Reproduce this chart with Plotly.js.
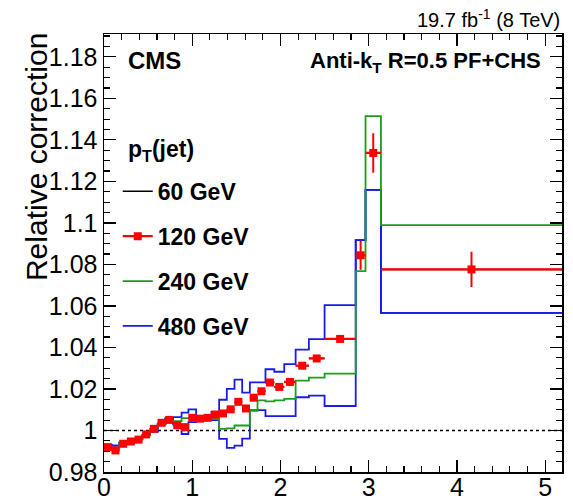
<!DOCTYPE html>
<html><head><meta charset="utf-8">
<script src="https://cdn.plot.ly/plotly-3.0.1.min.js"></script>
<style>html,body{margin:0;padding:0;background:#fff}#chart{width:573px;height:500px}</style>
</head><body><div id="chart"></div>
<script>
// |eta| bin edges
const etaEdges = [0, 0.087, 0.174, 0.261, 0.348, 0.435, 0.522, 0.609, 0.696, 0.783, 0.879, 0.957, 1.044, 1.131, 1.218, 1.305, 1.392, 1.479, 1.566, 1.653, 1.740, 1.830, 1.930, 2.043, 2.172, 2.322, 2.500, 2.853, 2.964, 3.139, 5.191];
// 60 GeV (black, drawn under the 120 GeV points)
const corr60 = [0.9920, 0.9904, 0.9936, 0.9947, 0.9956, 0.9981, 1.0008, 1.0037, 1.0051, 1.0025, 1.0016, 1.0061, 1.0057, 1.0061, 1.0077, 1.0082, 1.0102, 1.0138, 1.0106, 1.0158, 1.0189, 1.0231, 1.0210, 1.0234, 1.0312, 1.0347, 1.0441, 1.0844, 1.1337, 1.0776];
// 120 GeV (red points)
const corr120 = [0.9920, 0.9904, 0.9936, 0.9947, 0.9956, 0.9981, 1.0008, 1.0037, 1.0051, 1.0025, 1.0016, 1.0061, 1.0057, 1.0061, 1.0077, 1.0082, 1.0102, 1.0138, 1.0106, 1.0158, 1.0189, 1.0231, 1.0210, 1.0234, 1.0312, 1.0347, 1.0441, 1.0844, 1.1337, 1.0776];
const err120 = [0.0008, 0.0008, 0.0008, 0.0008, 0.0008, 0.0008, 0.0008, 0.0008, 0.0008, 0.0008, 0.0008, 0.0008, 0.0008, 0.0008, 0.0008, 0.0008, 0.0008, 0.0008, 0.0008, 0.0008, 0.0008, 0.0008, 0.0008, 0.0008, 0.0008, 0.0009, 0.0010, 0.0070, 0.0095, 0.0085];
// 240 GeV (green)
const corr240 = [0.9922, 0.9912, 0.9936, 0.9946, 0.9958, 0.9978, 1.0008, 1.0030, 1.0050, 1.0045, 1.0060, 1.0058, 1.0055, 1.0055, 1.0058, 1.0008, 1.0010, 1.0024, 1.0024, 1.0094, 1.0145, 1.0140, 1.0145, 1.0152, 1.0240, 1.0255, 1.0274, 1.0768, 1.1514, 1.0989];
// 480 GeV (blue, upper and lower lines)
const corr480 = [0.9930, 0.9927, 0.9941, 0.9950, 0.9960, 0.9978, 0.9995, 1.0030, 1.0058, 1.0064, 1.0086, 1.0102, 1.0050, 1.0050, 1.0090, 1.0148, 1.0200, 1.0245, 1.0182, 1.0232, 1.0232, 1.0295, 1.0283, 1.0320, 1.0390, 1.0440, 1.0604, 1.0917, 1.1159, 1.0567];
const corr480Low = [0.9930, 0.9927, 0.9941, 0.9950, 0.9960, 0.9978, 0.9995, 1.0030, 1.0058, 1.0030, 0.9983, 1.0040, 1.0050, 1.0050, 1.0050, 0.9960, 0.9916, 0.9927, 0.9961, 1.0098, 1.0098, 1.0069, 1.0069, 1.0069, 1.0160, 1.0168, 1.0118, 1.0917, 1.1159, 1.0567];
// ticks
const xTickVals = [0, 1, 2, 3, 4, 5];
const xTickText = ['0', '1', '2', '3', '4', '5'];
const yTickVals = [0.98, 1.00, 1.02, 1.04, 1.06, 1.08, 1.10, 1.12, 1.14, 1.16, 1.18];
const yTickText = ['0.98', '1', '1.02', '1.04', '1.06', '1.08', '1.1', '1.12', '1.14', '1.16', '1.18'];
const unity = 1;

const FONT = 'Liberation Sans, Arial, Helvetica, sans-serif';

function stepY(v) { return v.concat([v[v.length - 1]]); }

// black 60 GeV: horizontal per-bin segments
const bx = [], by = [];
for (let i = 0; i < corr60.length; i++) {
  bx.push(etaEdges[i], etaEdges[i + 1], null);
  by.push(corr60[i], corr60[i], null);
}
// red 120 GeV: marker at centre + horizontal bin-width bar
const rx = [], ry = [], rs = [], re = [];
for (let i = 0; i < corr120.length; i++) {
  const lo = etaEdges[i], hi = etaEdges[i + 1];
  rx.push((lo + hi) / 2, lo, hi, null);
  ry.push(corr120[i], corr120[i], corr120[i], null);
  rs.push('square', 'line-ew', 'line-ew', 'square');
  re.push(err120[i], 0, 0, 0);
}

const traces = [
  {x: bx, y: by, mode: 'lines', name: '<b>60 GeV</b>', line: {color: '#000', width: 1.5}, legendgroup: 'a', legendrank: 1, hoverinfo: 'skip'},
  {x: etaEdges, y: stepY(corr480Low), mode: 'lines', line: {shape: 'hv', color: '#1a1aee', width: 1.8}, showlegend: false, legendgroup: 'd', hoverinfo: 'skip'},
  {x: etaEdges, y: stepY(corr480), mode: 'lines', name: '<b>480 GeV</b>', line: {shape: 'hv', color: '#1a1aee', width: 1.8}, legendgroup: 'd', legendrank: 4},
  {x: etaEdges, y: stepY(corr240), mode: 'lines', name: '<b>240 GeV</b>', line: {shape: 'hv', color: '#1c9e1c', width: 1.8}, legendgroup: 'c', legendrank: 3},
  {x: rx, y: ry, mode: 'lines+markers', name: '<b>120 GeV</b>', legendgroup: 'b', legendrank: 2,
   line: {color: '#ff0000', width: 2.2},
   marker: {color: '#ff0000', size: 8, symbol: rs, line: {width: 0, color: '#ff0000'}},
   error_y: {type: 'data', array: re, visible: true, color: '#ff0000', thickness: 2, width: 0}}
];

const layout = {
  width: 573, height: 500,
  margin: {l: 104, r: 11, t: 34, b: 28, pad: 0},
  paper_bgcolor: '#fff', plot_bgcolor: '#fff',
  font: {family: FONT, color: '#000'},
  showlegend: true,
  legend: {
    x: 0.03, xanchor: 'left', y: 0.69, yanchor: 'top',
    bgcolor: 'rgba(0,0,0,0)', borderwidth: 0,
    font: {family: FONT, size: 23, color: '#000'},
    traceorder: 'grouped', tracegroupgap: 12
  },
  xaxis: {
    range: [0, 5.191], tickmode: 'array', tickvals: xTickVals, ticktext: xTickText,
    ticks: 'inside', ticklen: 12, tickwidth: 1.2, tickcolor: '#000',
    minor: {tickmode: 'linear', tick0: 0, dtick: 0.2, ticks: 'inside', ticklen: 6, tickwidth: 1.2, tickcolor: '#000'},
    showline: true, linecolor: '#000', linewidth: 1.5, mirror: 'ticks',
    showgrid: false, zeroline: false, ticklabelstandoff: -8,
    tickfont: {family: FONT, size: 25, color: '#000'}
  },
  yaxis: {
    range: [0.98, 1.191], tickmode: 'array', tickvals: yTickVals, ticktext: yTickText,
    ticks: 'inside', ticklen: 12, tickwidth: 1.2, tickcolor: '#000',
    minor: {tickmode: 'linear', tick0: 0.98, dtick: 0.005, ticks: 'inside', ticklen: 6, tickwidth: 1.2, tickcolor: '#000'},
    showline: true, linecolor: '#000', linewidth: 1.5, mirror: 'ticks',
    showgrid: false, zeroline: false,
    tickfont: {family: FONT, size: 25, color: '#000'}
  },
  shapes: [
    {type: 'line', xref: 'paper', yref: 'y', x0: 0, x1: 1, y0: unity, y1: unity, line: {color: '#000', width: 1.3, dash: '3px,3px'}, layer: 'below'}
  ],
  annotations: [
    {xref: 'paper', yref: 'paper', x: 1, y: 1.0365, xanchor: 'right', yanchor: 'middle', showarrow: false,
     text: '19.7 fb<sup>-1</sup> (8 TeV)', font: {family: FONT, size: 20}},
    {xref: 'paper', yref: 'paper', x: 0.048, y: 0.9406, xanchor: 'left', yanchor: 'middle', showarrow: false,
     text: '<b>CMS</b>', font: {family: FONT, size: 24}},
    {xref: 'paper', yref: 'paper', x: 0.9585, y: 0.936, xanchor: 'right', yanchor: 'middle', showarrow: false,
     text: '<b>Anti-k<sub>T</sub> R=0.5 PF+CHS</b>', font: {family: FONT, size: 22}},
    {xref: 'paper', yref: 'paper', x: 0.048, y: 0.733, xanchor: 'left', yanchor: 'middle', showarrow: false,
     text: '<b>p<sub>T</sub>(jet)</b>', font: {family: FONT, size: 23}},
    {xref: 'paper', yref: 'paper', x: -0.1485, y: 0.719, xanchor: 'center', yanchor: 'middle', showarrow: false,
     textangle: -90, text: 'Relative correction', font: {family: FONT, size: 30}}
  ]
};

Plotly.newPlot('chart', traces, layout, {displayModeBar: false, staticPlot: true});
</script>
</body></html>
